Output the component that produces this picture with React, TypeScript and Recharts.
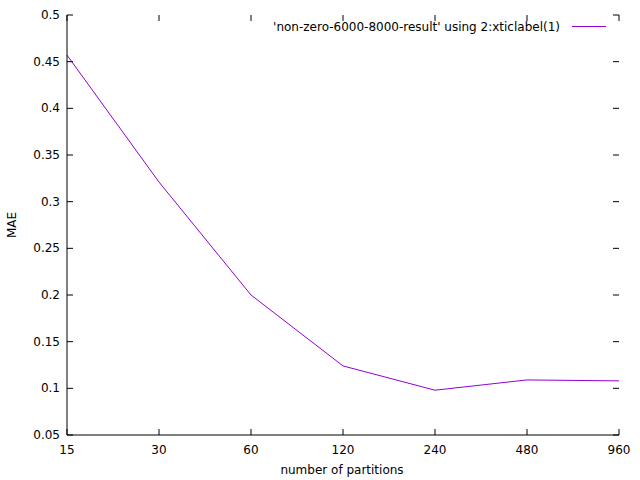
import React from 'react';
import { LineChart, Line, XAxis, YAxis, Legend, Label } from 'recharts';

const partitions = ['15', '30', '60', '120', '240', '480', '960'];
const maeValues = [0.457, 0.321, 0.2, 0.124, 0.098, 0.109, 0.108];
const yTicks = [0.05, 0.1, 0.15, 0.2, 0.25, 0.3, 0.35, 0.4, 0.45, 0.5];
const seriesName = "'non-zero-6000-8000-result' using 2:xticlabel(1)";

const data = partitions.map((p, i) => ({ p, mae: maeValues[i] }));

const FONT = 'DejaVu Sans';
const LINE_COLOR = '#9400d3';
const CHART_W = 640;
const CHART_H = 480;
const MARGIN = { top: 15, right: 21, bottom: 0, left: 0 };
const Y_AXIS_W = 67;
const X_AXIS_H = 45;
const PLOT_TOP = MARGIN.top;
const PLOT_RIGHT = CHART_W - MARGIN.right;

const LeftTick = (props: any) => {
  const { x, y, payload } = props;
  return (
    <g>
      <line x1={x} y1={y} x2={x + 6} y2={y} stroke="#000" strokeWidth={1} />
      <line x1={PLOT_RIGHT} y1={y} x2={PLOT_RIGHT - 6} y2={y} stroke="#000" strokeWidth={1} />
      <text x={x - 7} y={y + 4} textAnchor="end" fontFamily={FONT} fontSize={12} fill="#000">
        {String(payload.value)}
      </text>
    </g>
  );
};

const BottomTick = (props: any) => {
  const { x, y, payload } = props;
  return (
    <g>
      <line x1={x} y1={y} x2={x} y2={y - 6} stroke="#000" strokeWidth={1} />
      <line x1={x} y1={PLOT_TOP} x2={x} y2={PLOT_TOP + 6} stroke="#000" strokeWidth={1} />
      <text x={x} y={y + 19} textAnchor="middle" fontFamily={FONT} fontSize={12} fill="#000">
        {String(payload.value)}
      </text>
    </g>
  );
};

const renderLegend = () => (
  <div style={{ position: 'relative', width: 640, height: 14, fontFamily: FONT, fontSize: 12, lineHeight: '14px', color: '#000' }}>
    <span style={{ position: 'absolute', right: 80, top: 0, whiteSpace: 'nowrap' }}>{seriesName}</span>
    <svg style={{ position: 'absolute', left: 572, top: 0 }} width={34} height={14}>
      <line x1={0} y1={6.5} x2={34} y2={6.5} stroke={LINE_COLOR} strokeWidth={1} />
    </svg>
  </div>
);

export default function App() {
  return (
    <div style={{ position: 'absolute', left: 0, top: 0, width: CHART_W, height: CHART_H, background: '#fff' }}>
      <LineChart width={CHART_W} height={CHART_H} data={data} margin={MARGIN}>
        <XAxis
          dataKey="p"
          xAxisId="bottom"
          orientation="bottom"
          height={X_AXIS_H}
          tickSize={0}
          tickMargin={0}
          tick={<BottomTick />}
          axisLine={{ stroke: '#000', strokeWidth: 1 }}
          tickLine={false}
          interval={0}
        >
          <Label
            content={() => (
              <text x={342} y={474} textAnchor="middle" fontFamily={FONT} fontSize={12} fill="#000">
                number of partitions
              </text>
            )}
          />
        </XAxis>
        <XAxis
          dataKey="p"
          xAxisId="top"
          orientation="top"
          height={0}
          tick={false}
          axisLine={{ stroke: '#000', strokeWidth: 1 }}
          tickLine={false}
        />
        <YAxis
          yAxisId="left"
          orientation="left"
          width={Y_AXIS_W}
          type="number"
          domain={[0.05, 0.5]}
          ticks={yTicks}
          tickSize={0}
          tickMargin={0}
          tick={<LeftTick />}
          axisLine={{ stroke: '#000', strokeWidth: 1 }}
          tickLine={false}
          interval={0}
          allowDataOverflow
        >
          <Label
            content={() => (
              <text
                x={12}
                y={225}
                transform="rotate(-90 12 225)"
                textAnchor="middle"
                dominantBaseline="central"
                fontFamily={FONT}
                fontSize={12}
                fill="#000"
              >
                MAE
              </text>
            )}
          />
        </YAxis>
        <YAxis
          yAxisId="right"
          orientation="right"
          width={0}
          type="number"
          domain={[0.05, 0.5]}
          tick={false}
          axisLine={{ stroke: '#000', strokeWidth: 1 }}
          tickLine={false}
          allowDataOverflow
        />
        <Legend
          layout="horizontal"
          verticalAlign="middle"
          align="center"
          content={renderLegend}
          wrapperStyle={{ position: 'absolute', top: 20, left: 0, width: 640, height: 14 }}
        />
        <Line
          xAxisId="bottom"
          yAxisId="left"
          dataKey="mae"
          name={seriesName}
          type="linear"
          stroke={LINE_COLOR}
          strokeWidth={1}
          dot={false}
          activeDot={false}
          isAnimationActive={false}
        />
      </LineChart>
    </div>
  );
}
